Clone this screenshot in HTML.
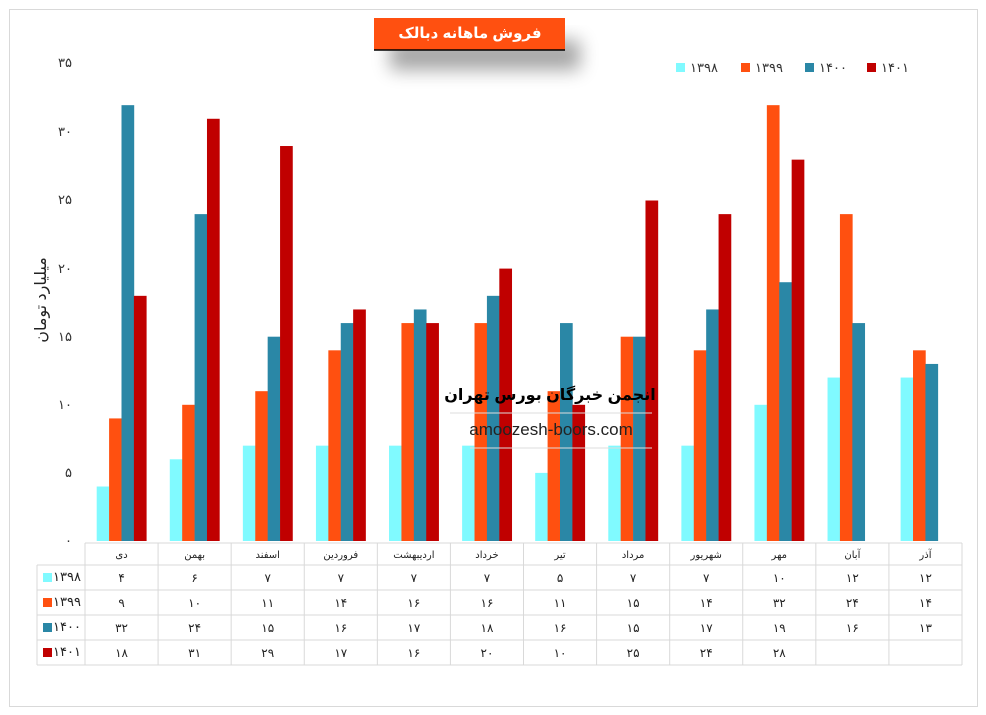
<!DOCTYPE html>
<html><head><meta charset="utf-8"><style>
body{margin:0;background:#fff;}
svg{display:block;font-family:"Liberation Sans","DejaVu Sans",sans-serif;}
</style></head><body>
<svg width="986" height="715" xmlns="http://www.w3.org/2000/svg">
<defs><filter id="sh" x="-50%" y="-50%" width="200%" height="300%"><feGaussianBlur stdDeviation="9"/></filter></defs>
<rect x="9.5" y="9.5" width="968" height="697" fill="#fff" stroke="#d9d9d9"/>
<rect x="390" y="40" width="190" height="30" fill="#000" opacity="0.35" filter="url(#sh)"/>
<rect x="374" y="18" width="191" height="32" fill="#FF5010"/>
<line x1="374" y1="50" x2="565" y2="50" stroke="#000" stroke-width="1.5"/>
<text x="470" y="38" text-anchor="middle" fill="#fff" font-size="15" font-weight="bold" direction="rtl">فروش ماهانه دبالک</text>
<g font-size="13" fill="#333">
<rect x="676" y="63" width="9" height="9" fill="#80FAFF"/><text x="690" y="72">۱۳۹۸</text>
<rect x="741" y="63" width="9" height="9" fill="#FF5010"/><text x="755" y="72">۱۳۹۹</text>
<rect x="805" y="63" width="9" height="9" fill="#2A87A6"/><text x="819" y="72">۱۴۰۰</text>
<rect x="867" y="63" width="9" height="9" fill="#C00000"/><text x="881" y="72">۱۴۰۱</text>
</g>
<g font-size="13" fill="#333" text-anchor="end">
<text x="72" y="545">۰</text><text x="72" y="477">۵</text><text x="72" y="409">۱۰</text><text x="72" y="341">۱۵</text>
<text x="72" y="273">۲۰</text><text x="72" y="204">۲۵</text><text x="72" y="136">۳۰</text><text x="72" y="67">۳۵</text>
</g>
<text transform="translate(46,300) rotate(-90)" text-anchor="middle" font-size="16" fill="#222" direction="rtl">میلیارد تومان</text>
<g id="bars"></g>
<g text-anchor="middle">
<text x="550" y="400" font-size="16" font-weight="bold" fill="#000" direction="rtl">انجمن خبرگان بورس تهران</text>
<line x1="450" y1="413" x2="652" y2="413" stroke="#ddd"/>
<text x="551" y="435" font-size="17" fill="#222">amoozesh-boors.com</text>
<line x1="470" y1="448" x2="652" y2="448" stroke="#ddd"/>
</g>
<g id="table" font-size="12" fill="#222" text-anchor="middle"></g>
<script>
var ns="http://www.w3.org/2000/svg";
var cats=["دی","بهمن","اسفند","فروردین","اردیبهشت","خرداد","تیر","مرداد","شهریور","مهر","آبان","آذر"];
var d=[[4,6,7,7,7,7,5,7,7,10,12,12],[9,10,11,14,16,16,11,15,14,32,24,14],[32,24,15,16,17,18,16,15,17,19,16,13],[18,31,29,17,16,20,10,25,24,28,null,null]];
var cols=["#80FAFF","#FF5010","#2A87A6","#C00000"];
var names=["۱۳۹۸","۱۳۹۹","۱۴۰۰","۱۴۰۱"];
function fa(n){return String(n).replace(/\d/g,c=>"۰۱۲۳۴۵۶۷۸۹"[c]);}
function el(t,a,p,tx){var e=document.createElementNS(ns,t);for(var k in a)e.setAttribute(k,a[k]);if(tx!=null)e.textContent=tx;p.appendChild(e);return e;}
var B=document.getElementById("bars"),T=document.getElementById("table");
var x0=85,cw=(962-85)/12,bw=12.4,y0=541,u=13.62;
for(var i=0;i<12;i++)for(var s=0;s<4;s++){var v=d[s][i];if(v==null)continue;
el("rect",{x:x0+i*cw+11.7+s*bw,y:y0-v*u,width:bw+0.3,height:v*u,fill:cols[s]},B);}
var g="#d9d9d9";
var rows=[543,565,590,615,640,665];
el("line",{x1:85,y1:543,x2:962,y2:543,stroke:g},T);
for(var r=1;r<6;r++)el("line",{x1:37,y1:rows[r],x2:962,y2:rows[r],stroke:g},T);
el("line",{x1:37,y1:565,x2:37,y2:665,stroke:g},T);
for(var i=0;i<=12;i++)el("line",{x1:x0+i*cw,y1:543,x2:x0+i*cw,y2:665,stroke:g},T);
for(var i=0;i<12;i++){var cx=x0+i*cw+cw/2;
el("text",{x:cx,y:558,"font-size":10,direction:"rtl"},T,cats[i]);
for(var s=0;s<4;s++){var v=d[s][i];if(v!=null)el("text",{x:cx,y:rows[s+1]+17},T,fa(v));}}
for(var s=0;s<4;s++){el("rect",{x:43,y:rows[s+1]+8,width:9,height:9,fill:cols[s]},T);
el("text",{x:67,y:rows[s+1]+16,"font-size":13},T,names[s]);}
</script>
</svg>
</body></html>
